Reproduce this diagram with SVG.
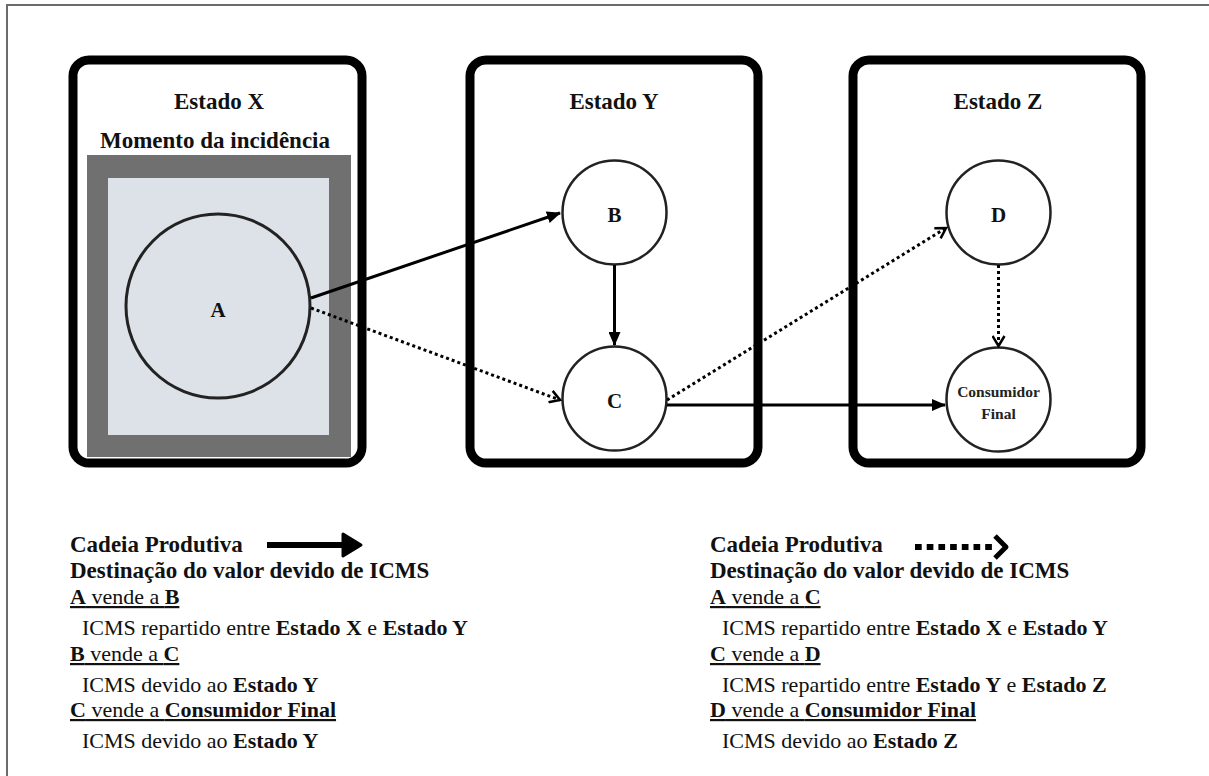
<svg xmlns="http://www.w3.org/2000/svg" width="1209" height="776" viewBox="0 0 1209 776">
  <style>
    .bg { fill: #ffffff; }
    .frame { fill: none; stroke: #6b6b6b; stroke-width: 2; }
    .state { fill: #ffffff; stroke: #000000; stroke-width: 9; }
    .node { fill: #ffffff; stroke: #222222; stroke-width: 2.5; }
    text { font-family: 'Liberation Serif', 'DejaVu Serif', serif; fill: #111111; }
    .title { font-weight: bold; font-size: 23px; text-anchor: middle; }
    .lbl { font-weight: bold; font-size: 21px; text-anchor: middle; }
    .small { font-weight: bold; font-size: 15.5px; fill: #222222; text-anchor: middle; }
    .solid { fill: none; stroke: #000000; stroke-width: 3; }
    .dotted { fill: none; stroke: #000000; stroke-width: 3; stroke-dasharray: 3 3; }
    .head { font-weight: bold; font-size: 23px; }
    .body { font-size: 22px; }
    .b { font-weight: bold; }
  </style>
  <defs>
    <marker id="arrowSolid" markerUnits="userSpaceOnUse" markerWidth="14" markerHeight="12" refX="13" refY="6" orient="auto">
      <path d="M0,0 L14,6 L0,12 Z" fill="#000000"/>
    </marker>
    <marker id="arrowOpen" markerUnits="userSpaceOnUse" markerWidth="14" markerHeight="14" refX="11" refY="7" orient="auto">
      <path d="M1,1 L11,7 L1,13" fill="none" stroke="#000000" stroke-width="2.5"/>
    </marker>
  </defs>

  <rect class="bg" x="0" y="0" width="1209" height="776"/>
  <!-- page frame, continues past the right and bottom edges -->
  <rect class="frame" x="7" y="5" width="1260" height="860"/>

  <!-- State containers -->
  <g id="estado-x">
    <rect class="state" x="73" y="60" width="289" height="403" rx="16"/>
    <text class="title" x="219" y="109">Estado X</text>
    <text class="title" x="215" y="148">Momento da incidência</text>
    <rect x="87" y="155" width="264" height="302" fill="#707070"/>
    <rect x="108" y="178" width="221" height="257" fill="#dde2e8"/>
  </g>
  <g id="estado-y">
    <rect class="state" x="470" y="60" width="288" height="403" rx="16"/>
    <text class="title" x="614" y="109">Estado Y</text>
  </g>
  <g id="estado-z">
    <rect class="state" x="853" y="60" width="288" height="403" rx="16"/>
    <text class="title" x="998" y="109">Estado Z</text>
  </g>

  <!-- Nodes -->
  <g id="node-a">
    <circle cx="218" cy="306" r="92" fill="#dde2e8" stroke="#222222" stroke-width="3"/>
    <text class="lbl" x="218" y="317">A</text>
  </g>
  <g id="node-b">
    <circle class="node" cx="614.5" cy="212.5" r="52"/>
    <text class="lbl" x="614.5" y="222">B</text>
  </g>
  <g id="node-c">
    <circle class="node" cx="614.5" cy="398.5" r="52"/>
    <text class="lbl" x="614.5" y="408">C</text>
  </g>
  <g id="node-d">
    <circle class="node" cx="998.5" cy="212.5" r="52"/>
    <text class="lbl" x="998.5" y="222">D</text>
  </g>
  <g id="node-cf">
    <circle class="node" cx="998.5" cy="399.5" r="52"/>
    <text class="small" x="998.5" y="397">Consumidor</text>
    <text class="small" x="998.5" y="419">Final</text>
  </g>

  <!-- Connectors -->
  <g id="connectors">
    <line class="solid" x1="311" y1="298" x2="560" y2="213" marker-end="url(#arrowSolid)"/>
    <line class="dotted" x1="311" y1="308" x2="560" y2="400" marker-end="url(#arrowOpen)"/>
    <line class="solid" x1="614.5" y1="265" x2="614.5" y2="345" marker-end="url(#arrowSolid)"/>
    <line class="dotted" x1="667" y1="400" x2="946" y2="228" marker-end="url(#arrowOpen)"/>
    <line class="solid" x1="667" y1="405" x2="945" y2="405" marker-end="url(#arrowSolid)"/>
    <line class="dotted" x1="998.5" y1="265" x2="998.5" y2="346" marker-end="url(#arrowOpen)"/>
  </g>

  <!-- Legend: solid chain -->
  <g id="legend-solid">
    <text class="head" x="70" y="552">Cadeia Produtiva</text>
    <line x1="267" y1="545" x2="346" y2="545" stroke="#000000" stroke-width="6"/>
    <path d="M343,534 L361,545 L343,556 Z" fill="#000000" stroke="#000000" stroke-width="3" stroke-linejoin="round"/>
    <text class="head" x="70" y="578">Destinação do valor devido de ICMS</text>
    <text class="body" x="70" y="604" text-decoration="underline"><tspan class="b">A</tspan> vende a <tspan class="b">B</tspan></text>
    <text class="body" x="82" y="635">ICMS repartido entre <tspan class="b">Estado X</tspan> e <tspan class="b">Estado Y</tspan></text>
    <text class="body" x="70" y="661" text-decoration="underline"><tspan class="b">B</tspan> vende a <tspan class="b">C</tspan></text>
    <text class="body" x="82" y="692">ICMS devido ao <tspan class="b">Estado Y</tspan></text>
    <text class="body" x="70" y="717" text-decoration="underline"><tspan class="b">C</tspan> vende a <tspan class="b">Consumidor Final</tspan></text>
    <text class="body" x="82" y="748">ICMS devido ao <tspan class="b">Estado Y</tspan></text>
  </g>

  <!-- Legend: dotted chain -->
  <g id="legend-dotted">
    <text class="head" x="710" y="552">Cadeia Produtiva</text>
    <line x1="915" y1="547" x2="992" y2="547" stroke="#000000" stroke-width="6" stroke-dasharray="6.7 5"/>
    <path d="M995,536 L1006,547 L995,558" fill="none" stroke="#000000" stroke-width="5" stroke-linejoin="round"/>
    <text class="head" x="710" y="578">Destinação do valor devido de ICMS</text>
    <text class="body" x="710" y="604" text-decoration="underline"><tspan class="b">A</tspan> vende a <tspan class="b">C</tspan></text>
    <text class="body" x="722" y="635">ICMS repartido entre <tspan class="b">Estado X</tspan> e <tspan class="b">Estado Y</tspan></text>
    <text class="body" x="710" y="661" text-decoration="underline"><tspan class="b">C</tspan> vende a <tspan class="b">D</tspan></text>
    <text class="body" x="722" y="692">ICMS repartido entre <tspan class="b">Estado Y</tspan> e <tspan class="b">Estado Z</tspan></text>
    <text class="body" x="710" y="717" text-decoration="underline"><tspan class="b">D</tspan> vende a <tspan class="b">Consumidor Final</tspan></text>
    <text class="body" x="722" y="748">ICMS devido ao <tspan class="b">Estado Z</tspan></text>
  </g>
</svg>
